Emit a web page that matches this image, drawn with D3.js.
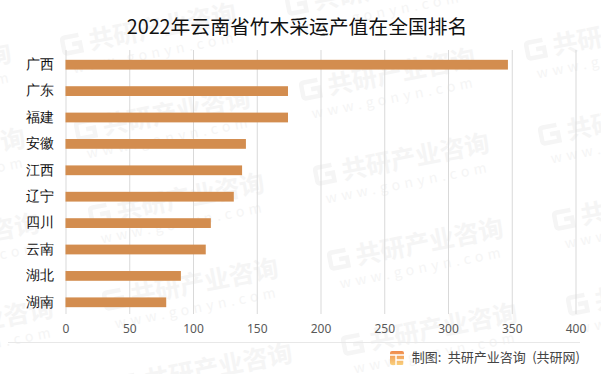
<!DOCTYPE html>
<html>
<head>
<meta charset="utf-8">
<script src="https://cdn.jsdelivr.net/npm/d3@7"></script>
<style>
    html, body { margin: 0; padding: 0; background: #fff; }
    svg { display: block; font-family: "Noto Sans CJK SC", sans-serif; }
    .y-axis text { font-size: 13.5px; fill: #111; }
    .x-axis text { font-size: 12px; fill: #595959; font-family: "Noto Sans", "Noto Sans CJK SC", sans-serif; }
    .x-axis line { stroke: #d9d9d9; }
</style>
</head>
<body>
<div id="chart"></div>
<script>
const provinces = ['广西', '广东', '福建', '安徽', '江西', '辽宁', '四川', '云南', '湖北', '湖南'];
const outputValues = [347, 174.5, 174.5, 141.5, 138.5, 132, 114, 110, 90.5, 79];
const xTicks = [0, 50, 100, 150, 200, 250, 300, 350, 400];
const titleText = '2022年云南省竹木采运产值在全国排名';
const sourceText = '制图: 共研产业咨询 (共研网)';

const width = 601;
const height = 374;
const margin = { top: 50, right: 25.5, bottom: 60, left: 65.5 };
const innerWidth = width - margin.left - margin.right;
const innerHeight = height - margin.top - margin.bottom;

const svg = d3.select('#chart')
    .append('svg')
    .attr('width', width)
    .attr('height', height);

const defs = svg.append('defs');
const logoGradient = defs.append('linearGradient')
    .attr('id', 'logo-gradient')
    .attr('x1', 0).attr('y1', 0).attr('x2', 0).attr('y2', 1);
logoGradient.append('stop').attr('offset', '0%').attr('stop-color', '#ef8a4c');
logoGradient.append('stop').attr('offset', '100%').attr('stop-color', '#f9d07c');

// background watermark, repeated on a slanted lattice
const watermarkColor = '#f5f5f5';
const watermark = svg.append('g').attr('class', 'watermark');
for (let i = -1; i <= 2; i++) {
    for (let j = -2; j <= 3; j++) {
        const wx = 78 + i * 225 + j * 14;
        const wy = 140 - i * 40 + j * 85;
        if (wx > width - 10 || wx < -170 || wy < 0 || wy > height + 25) continue;
        const stamp = watermark.append('g')
            .attr('transform', `translate(${wx},${wy}) rotate(-11)`);
        stamp.append('path')
            .attr('d', 'M18 -17 H4 Q1 -17 1 -14 V-4 Q1 -1 4 -1 H18 V-9 H10')
            .attr('fill', 'none')
            .attr('stroke', watermarkColor)
            .attr('stroke-width', 4.5);
        stamp.append('text')
            .attr('x', 27)
            .attr('font-size', 25)
            .attr('font-weight', 700)
            .attr('fill', watermarkColor)
            .text('共研产业咨询');
        stamp.append('text')
            .attr('x', 6)
            .attr('y', 20)
            .attr('font-size', 14)
            .attr('letter-spacing', '4.5px')
            .attr('fill', watermarkColor)
            .text('www.gonyn.com');
    }
}

svg.append('text')
    .attr('x', 297)
    .attr('y', 34)
    .attr('text-anchor', 'middle')
    .attr('font-size', 19.8)
    .attr('fill', '#111')
    .text(titleText);

const plot = svg.append('g')
    .attr('transform', `translate(${margin.left},${margin.top})`);

const x = d3.scaleLinear()
    .domain([0, 400])
    .range([0, innerWidth]);

const y = d3.scaleBand()
    .domain(provinces)
    .range([1.5, innerHeight + 1.5])
    .paddingInner(0.63)
    .paddingOuter(0.315);

const xAxis = plot.append('g')
    .attr('class', 'x-axis')
    .attr('transform', `translate(0,${innerHeight})`)
    .call(d3.axisBottom(x)
        .tickValues(xTicks)
        .tickSize(innerHeight)
        .tickPadding(8));
xAxis.select('.domain').remove();
// axisBottom draws downward, flip the tick lines up into the plot
xAxis.selectAll('line').attr('y2', -innerHeight);
xAxis.selectAll('text').attr('y', 10);

plot.selectAll('.bar')
    .data(provinces)
    .enter()
    .append('rect')
    .attr('class', 'bar')
    .attr('x', 0)
    .attr('y', (d) => y(d))
    .attr('width', (d, i) => x(outputValues[i]))
    .attr('height', y.bandwidth())
    .attr('fill', '#d38d4f');

const yAxis = plot.append('g')
    .attr('class', 'y-axis')
    .call(d3.axisLeft(y).tickSize(0).tickPadding(12));
yAxis.select('.domain').remove();

// footer
svg.append('line')
    .attr('x1', 8).attr('x2', 580)
    .attr('y1', 342.5).attr('y2', 342.5)
    .attr('stroke', '#e8e8e8');

svg.append('rect')
    .attr('x', 390).attr('y', 351)
    .attr('width', 14).attr('height', 14)
    .attr('rx', 2)
    .attr('fill', 'url(#logo-gradient)');
svg.append('path')
    .attr('d', 'M390 355 H404 M396 360 H404 V365 M396 355 V365')
    .attr('fill', 'none')
    .attr('stroke', '#fff')
    .attr('stroke-width', 1.4);

svg.append('text')
    .attr('x', 580)
    .attr('y', 362)
    .attr('text-anchor', 'end')
    .attr('font-size', 13)
    .attr('word-spacing', '3.5px')
    .attr('fill', '#444')
    .text(sourceText);
</script>
</body>
</html>
